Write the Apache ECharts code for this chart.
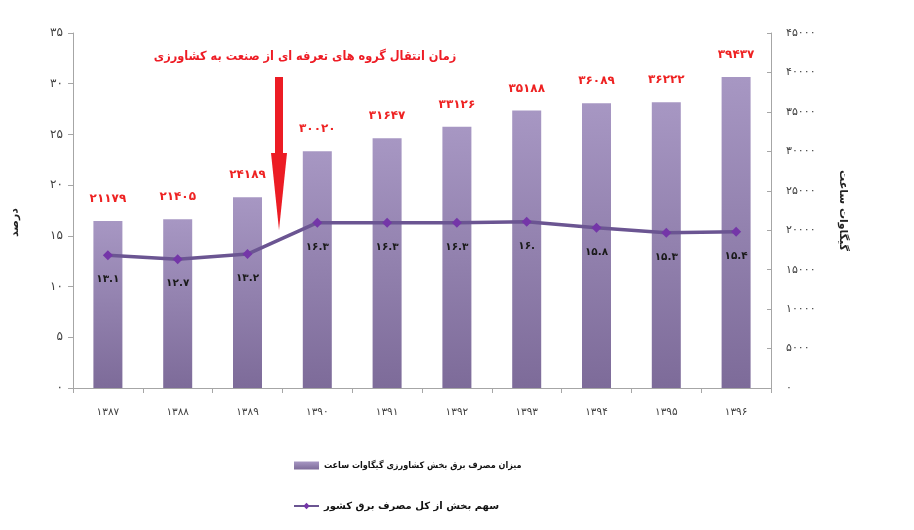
<!DOCTYPE html>
<html><head><meta charset="utf-8">
<script src="https://cdn.jsdelivr.net/npm/echarts@6/dist/echarts.min.js"></script>
<style>html,body{margin:0;padding:0;background:#fff}#c{width:914px;height:530px}</style>
</head><body><div id="c"></div>
<script>
const years = ['۱۳۸۷','۱۳۸۸','۱۳۸۹','۱۳۹۰','۱۳۹۱','۱۳۹۲','۱۳۹۳','۱۳۹۴','۱۳۹۵','۱۳۹۶'];
const consumption = [21179,21405,24189,30020,31647,33126,35188,36089,36222,39437];
const consumptionLabels = ['۲۱۱۷۹','۲۱۴۰۵','۲۴۱۸۹','۳۰۰۲۰','۳۱۶۴۷','۳۳۱۲۶','۳۵۱۸۸','۳۶۰۸۹','۳۶۲۲۲','۳۹۴۳۷'];
const share = [13.1,12.7,13.2,16.3,16.3,16.3,16.4,15.8,15.3,15.4];
const shareLabels = ['۱۳.۱','۱۲.۷','۱۳.۲','۱۶.۳','۱۶.۳','۱۶.۳','۱۶.','۱۵.۸','۱۵.۳','۱۵.۴'];
const leftTicks = ['۰','۵','۱۰','۱۵','۲۰','۲۵','۳۰','۳۵'];
const rightTicks = ['۰','۵۰۰۰','۱۰۰۰۰','۱۵۰۰۰','۲۰۰۰۰','۲۵۰۰۰','۳۰۰۰۰','۳۵۰۰۰','۴۰۰۰۰','۴۵۰۰۰'];
const barName = 'میزان مصرف برق بخش کشاورزی گیگاوات ساعت';
const lineName = 'سهم بخش از کل مصرف برق کشور';
const leftAxisName = 'درصد';
const rightAxisName = 'گیگاوات ساعت';
const noteText = 'زمان انتقال گروه های تعرفه ای از صنعت به کشاورزی';

const FONT = 'DejaVu Sans';
const CFONT = '"DejaVu Sans Condensed", "DejaVu Sans"';
const chart = echarts.init(document.getElementById('c'), null, {renderer:'canvas'});
const barGrad = new echarts.graphic.LinearGradient(0,0,0,1,[{offset:0,color:'#a797c3'},{offset:1,color:'#7d6b99'}]);
chart.setOption({
  backgroundColor:'#ffffff',
  animation:false,
  textStyle:{fontFamily:FONT},
  grid:{left:73,right:143,top:33,bottom:142},
  legend:{
    orient:'vertical', left:288, top:456, itemGap:31,
    itemWidth:25, itemHeight:8,
    formatter:(n)=> n===barName ? '{a|'+n+'}' : '{b|'+n+'}',
    textStyle:{fontFamily:CFONT,fontSize:9.5,fontWeight:'bold',color:'#111',
      rich:{
        a:{fontFamily:CFONT,fontSize:9,fontWeight:'bold',color:'#111'},
        b:{fontFamily:FONT,fontSize:10,fontWeight:'bold',color:'#111'}
      }},
    data:[{name:barName,icon:'rect'},{name:lineName}]
  },
  xAxis:{
    type:'category', data:years, boundaryGap:true,
    axisLine:{lineStyle:{color:'#a6a6a6',width:1}},
    axisTick:{show:true,length:5,lineStyle:{color:'#a6a6a6'}},
    axisLabel:{color:'#404040',fontSize:10.5,margin:19,fontFamily:FONT}
  },
  yAxis:[{
    type:'value', min:0, max:35, interval:5, position:'left',
    name:leftAxisName, nameLocation:'middle', nameGap:52, nameRotate:90,
    nameTextStyle:{fontFamily:FONT,fontSize:11,fontWeight:'bold',color:'#222',padding:[0,24,0,0]},
    splitLine:{show:false},
    axisLine:{show:true,lineStyle:{color:'#a6a6a6'}},
    axisTick:{show:true,length:5,lineStyle:{color:'#a6a6a6'}},
    axisLabel:{color:'#404040',fontSize:12,margin:10,fontFamily:FONT,
      formatter:(v)=>leftTicks[Math.round(v/5)]}
  },{
    type:'value', min:0, max:45000, interval:5000, position:'right',
    name:rightAxisName, nameLocation:'middle', nameGap:66, nameRotate:-90,
    nameTextStyle:{fontFamily:FONT,fontSize:11,fontWeight:'bold',color:'#222'},
    splitLine:{show:false},
    axisLine:{show:true,lineStyle:{color:'#a6a6a6'}},
    axisTick:{show:true,inside:true,length:4,lineStyle:{color:'#a6a6a6'}},
    axisLabel:{color:'#404040',fontSize:11,margin:15,fontFamily:FONT,align:'left',
      formatter:(v)=>rightTicks[Math.round(v/5000)]}
  }],
  series:[{
    name:barName, type:'bar', yAxisIndex:1, data:consumption, barWidth:29,
    itemStyle:{color:barGrad},
    label:{show:true,position:'top',distance:16,color:'#ee2222',fontSize:12,fontWeight:'bold',fontFamily:FONT,
      formatter:(p)=>consumptionLabels[p.dataIndex]}
  },{
    name:lineName, type:'line', yAxisIndex:0, data:share,
    symbol:'diamond', symbolSize:10,
    lineStyle:{color:'#6b5592',width:3.5},
    itemStyle:{color:'#7436a8'},
    label:{show:true,position:'bottom',distance:14,color:'#1a1a1a',fontSize:10.5,fontWeight:'bold',fontFamily:FONT,
      formatter:(p)=>shareLabels[p.dataIndex]}
  }],
  graphic:[
    {type:'text', x:305, y:57, z:10,
     style:{text:noteText,fill:'#ee1c25',font:'bold 12.6px ' + CFONT,align:'center',verticalAlign:'middle'}},
    {type:'rect',shape:{x:275,y:77,width:8,height:78},style:{fill:'#ec1c24'},z:10},
    {type:'polygon',shape:{points:[[271,153],[287,153],[279,230]]},style:{fill:'#ec1c24'},z:10}
  ]
});
</script></body></html>
